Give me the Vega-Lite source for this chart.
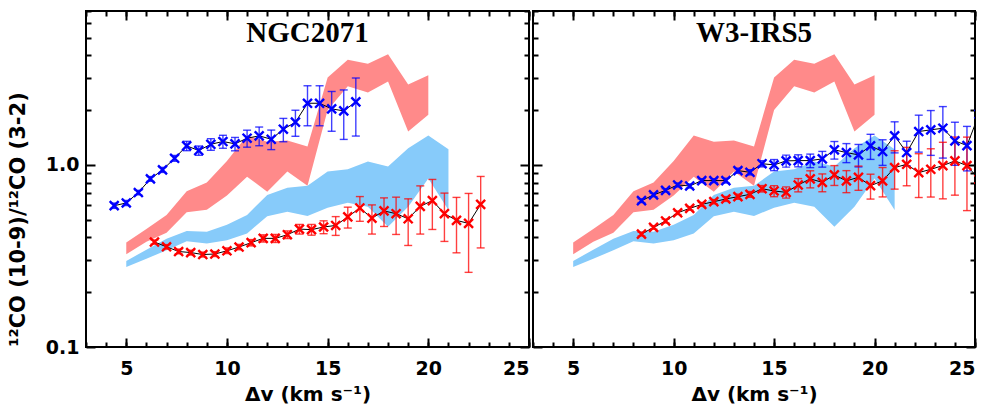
{
  "$schema": "https://vega.github.io/schema/vega-lite/v6.json",
  "background": "white",
  "padding": {"left": 6, "top": 9, "right": 10, "bottom": 0},
  "spacing": 0,
  "config": {
    "view": {"stroke": "black", "strokeWidth": 2},
    "axis": {
      "domain": false, "grid": false, "tickColor": "black", "tickWidth": 2, "zindex": 1,
      "labelFont": "DejaVu Sans", "labelFontWeight": "bold", "labelFontSize": 19, "labelColor": "black",
      "titleFont": "DejaVu Sans", "titleFontWeight": "bold", "titleFontSize": 20, "titleColor": "black"
    },
    "title": {"font": "Liberation Serif", "fontSize": 29, "fontWeight": "bold", "color": "black", "offset": -38}
  },
  "datasets": {
    "bands": [
      {"b": "pink", "x": 5, "lo": 0.3236, "hi": 0.375},
      {"b": "pink", "x": 6, "lo": 0.378, "hi": 0.4445},
      {"b": "pink", "x": 7, "lo": 0.424, "hi": 0.531},
      {"b": "pink", "x": 8, "lo": 0.55, "hi": 0.716},
      {"b": "pink", "x": 9, "lo": 0.567, "hi": 0.8},
      {"b": "pink", "x": 10, "lo": 0.68, "hi": 1.05},
      {"b": "pink", "x": 11, "lo": 0.862, "hi": 1.45},
      {"b": "pink", "x": 12, "lo": 0.713, "hi": 1.34},
      {"b": "pink", "x": 13, "lo": 0.919, "hi": 1.36},
      {"b": "pink", "x": 14, "lo": 0.769, "hi": 1.261},
      {"b": "pink", "x": 15, "lo": 2.0, "hi": 3.02},
      {"b": "pink", "x": 16, "lo": 2.7, "hi": 3.78},
      {"b": "pink", "x": 17, "lo": 2.5, "hi": 3.59},
      {"b": "pink", "x": 18, "lo": 2.87, "hi": 4.05},
      {"b": "pink", "x": 19, "lo": 1.525, "hi": 2.76},
      {"b": "pink", "x": 20, "lo": 1.884, "hi": 3.11},
      {"b": "sky", "x": 5, "lo": 0.275, "hi": 0.297},
      {"b": "sky", "x": 6, "lo": 0.305, "hi": 0.342},
      {"b": "sky", "x": 7, "lo": 0.34, "hi": 0.393},
      {"b": "sky", "x": 8, "lo": 0.381, "hi": 0.4335},
      {"b": "sky", "x": 9, "lo": 0.37, "hi": 0.4295},
      {"b": "sky", "x": 10, "lo": 0.3856, "hi": 0.469},
      {"b": "sky", "x": 11, "lo": 0.42, "hi": 0.531},
      {"b": "sky", "x": 12, "lo": 0.5227, "hi": 0.684},
      {"b": "sky", "x": 13, "lo": 0.553, "hi": 0.75},
      {"b": "sky", "x": 14, "lo": 0.524, "hi": 0.769},
      {"b": "sky", "x": 15, "lo": 0.582, "hi": 0.919},
      {"b": "sky", "x": 16, "lo": 0.62, "hi": 0.946},
      {"b": "sky", "x": 17, "lo": 0.59, "hi": 1.043},
      {"b": "sky", "x": 18, "lo": 0.4575, "hi": 0.979},
      {"b": "sky", "x": 19, "lo": 0.59, "hi": 1.234},
      {"b": "sky", "x": 20, "lo": 0.841, "hi": 1.449},
      {"b": "sky", "x": 21, "lo": 0.565, "hi": 1.219}
    ],
    "pts": [
      {"p": "NGC2071", "s": "blue", "x": 4.4, "y": 0.597, "lo": 0.577, "hi": 0.617},
      {"p": "NGC2071", "s": "blue", "x": 5.0, "y": 0.618, "lo": 0.598, "hi": 0.638},
      {"p": "NGC2071", "s": "blue", "x": 5.6, "y": 0.705, "lo": 0.685, "hi": 0.725},
      {"p": "NGC2071", "s": "blue", "x": 6.2, "y": 0.838, "lo": 0.813, "hi": 0.863},
      {"p": "NGC2071", "s": "blue", "x": 6.8, "y": 0.939, "lo": 0.909, "hi": 0.969},
      {"p": "NGC2071", "s": "blue", "x": 7.4, "y": 1.087, "lo": 1.047, "hi": 1.127},
      {"p": "NGC2071", "s": "blue", "x": 8.0, "y": 1.272, "lo": 1.197, "hi": 1.347},
      {"p": "NGC2071", "s": "blue", "x": 8.6, "y": 1.199, "lo": 1.129, "hi": 1.269},
      {"p": "NGC2071", "s": "blue", "x": 9.2, "y": 1.298, "lo": 1.203, "hi": 1.393},
      {"p": "NGC2071", "s": "blue", "x": 9.8, "y": 1.344, "lo": 1.234, "hi": 1.454},
      {"p": "NGC2071", "s": "blue", "x": 10.4, "y": 1.305, "lo": 1.195, "hi": 1.415},
      {"p": "NGC2071", "s": "blue", "x": 11.0, "y": 1.401, "lo": 1.251, "hi": 1.551},
      {"p": "NGC2071", "s": "blue", "x": 11.6, "y": 1.444, "lo": 1.274, "hi": 1.614},
      {"p": "NGC2071", "s": "blue", "x": 12.2, "y": 1.383, "lo": 1.213, "hi": 1.553},
      {"p": "NGC2071", "s": "blue", "x": 12.8, "y": 1.57, "lo": 1.34, "hi": 1.8},
      {"p": "NGC2071", "s": "blue", "x": 13.4, "y": 1.716, "lo": 1.436, "hi": 1.996},
      {"p": "NGC2071", "s": "blue", "x": 14.0, "y": 2.18, "lo": 1.64, "hi": 2.72},
      {"p": "NGC2071", "s": "blue", "x": 14.6, "y": 2.18, "lo": 1.64, "hi": 2.72},
      {"p": "NGC2071", "s": "blue", "x": 15.2, "y": 2.03, "lo": 1.53, "hi": 2.53},
      {"p": "NGC2071", "s": "blue", "x": 15.8, "y": 1.98, "lo": 1.38, "hi": 2.58},
      {"p": "NGC2071", "s": "blue", "x": 16.4, "y": 2.22, "lo": 1.44, "hi": 3.0},
      {"p": "NGC2071", "s": "red", "x": 6.4, "y": 0.377, "lo": 0.367, "hi": 0.387},
      {"p": "NGC2071", "s": "red", "x": 7.0, "y": 0.355, "lo": 0.345, "hi": 0.365},
      {"p": "NGC2071", "s": "red", "x": 7.6, "y": 0.3345, "lo": 0.325, "hi": 0.345},
      {"p": "NGC2071", "s": "red", "x": 8.2, "y": 0.33, "lo": 0.32, "hi": 0.34},
      {"p": "NGC2071", "s": "red", "x": 8.8, "y": 0.322, "lo": 0.312, "hi": 0.332},
      {"p": "NGC2071", "s": "red", "x": 9.4, "y": 0.324, "lo": 0.314, "hi": 0.334},
      {"p": "NGC2071", "s": "red", "x": 10.0, "y": 0.3375, "lo": 0.326, "hi": 0.35},
      {"p": "NGC2071", "s": "red", "x": 10.6, "y": 0.354, "lo": 0.342, "hi": 0.366},
      {"p": "NGC2071", "s": "red", "x": 11.2, "y": 0.374, "lo": 0.359, "hi": 0.389},
      {"p": "NGC2071", "s": "red", "x": 11.8, "y": 0.395, "lo": 0.377, "hi": 0.413},
      {"p": "NGC2071", "s": "red", "x": 12.4, "y": 0.395, "lo": 0.375, "hi": 0.415},
      {"p": "NGC2071", "s": "red", "x": 13.0, "y": 0.4135, "lo": 0.394, "hi": 0.434},
      {"p": "NGC2071", "s": "red", "x": 13.6, "y": 0.444, "lo": 0.417, "hi": 0.471},
      {"p": "NGC2071", "s": "red", "x": 14.2, "y": 0.441, "lo": 0.411, "hi": 0.471},
      {"p": "NGC2071", "s": "red", "x": 14.8, "y": 0.456, "lo": 0.419, "hi": 0.493},
      {"p": "NGC2071", "s": "red", "x": 15.4, "y": 0.465, "lo": 0.41, "hi": 0.52},
      {"p": "NGC2071", "s": "red", "x": 16.0, "y": 0.518, "lo": 0.45, "hi": 0.586},
      {"p": "NGC2071", "s": "red", "x": 16.6, "y": 0.58, "lo": 0.49, "hi": 0.67},
      {"p": "NGC2071", "s": "red", "x": 17.2, "y": 0.51, "lo": 0.417, "hi": 0.603},
      {"p": "NGC2071", "s": "red", "x": 17.8, "y": 0.559, "lo": 0.459, "hi": 0.659},
      {"p": "NGC2071", "s": "red", "x": 18.4, "y": 0.5395, "lo": 0.415, "hi": 0.665},
      {"p": "NGC2071", "s": "red", "x": 19.0, "y": 0.506, "lo": 0.361, "hi": 0.651},
      {"p": "NGC2071", "s": "red", "x": 19.6, "y": 0.592, "lo": 0.417, "hi": 0.767},
      {"p": "NGC2071", "s": "red", "x": 20.2, "y": 0.637, "lo": 0.442, "hi": 0.832},
      {"p": "NGC2071", "s": "red", "x": 20.8, "y": 0.54, "lo": 0.38, "hi": 0.7},
      {"p": "NGC2071", "s": "red", "x": 21.4, "y": 0.496, "lo": 0.329, "hi": 0.663},
      {"p": "NGC2071", "s": "red", "x": 22.0, "y": 0.477, "lo": 0.257, "hi": 0.697},
      {"p": "NGC2071", "s": "red", "x": 22.6, "y": 0.607, "lo": 0.35, "hi": 0.864},
      {"p": "W3-IRS5", "s": "blue", "x": 8.4, "y": 0.636, "lo": 0.621, "hi": 0.651},
      {"p": "W3-IRS5", "s": "blue", "x": 9.0, "y": 0.684, "lo": 0.669, "hi": 0.699},
      {"p": "W3-IRS5", "s": "blue", "x": 9.6, "y": 0.725, "lo": 0.71, "hi": 0.74},
      {"p": "W3-IRS5", "s": "blue", "x": 10.2, "y": 0.776, "lo": 0.756, "hi": 0.796},
      {"p": "W3-IRS5", "s": "blue", "x": 10.8, "y": 0.766, "lo": 0.746, "hi": 0.786},
      {"p": "W3-IRS5", "s": "blue", "x": 11.4, "y": 0.82, "lo": 0.8, "hi": 0.84},
      {"p": "W3-IRS5", "s": "blue", "x": 12.0, "y": 0.82, "lo": 0.8, "hi": 0.84},
      {"p": "W3-IRS5", "s": "blue", "x": 12.6, "y": 0.82, "lo": 0.795, "hi": 0.845},
      {"p": "W3-IRS5", "s": "blue", "x": 13.2, "y": 0.93, "lo": 0.9, "hi": 0.96},
      {"p": "W3-IRS5", "s": "blue", "x": 13.8, "y": 0.911, "lo": 0.881, "hi": 0.941},
      {"p": "W3-IRS5", "s": "blue", "x": 14.4, "y": 1.015, "lo": 0.975, "hi": 1.055},
      {"p": "W3-IRS5", "s": "blue", "x": 15.0, "y": 1.0, "lo": 0.93, "hi": 1.07},
      {"p": "W3-IRS5", "s": "blue", "x": 15.6, "y": 1.052, "lo": 0.972, "hi": 1.132},
      {"p": "W3-IRS5", "s": "blue", "x": 16.2, "y": 1.056, "lo": 0.976, "hi": 1.136},
      {"p": "W3-IRS5", "s": "blue", "x": 16.8, "y": 1.056, "lo": 0.966, "hi": 1.146},
      {"p": "W3-IRS5", "s": "blue", "x": 17.4, "y": 1.079, "lo": 0.972, "hi": 1.186},
      {"p": "W3-IRS5", "s": "blue", "x": 18.0, "y": 1.21, "lo": 1.076, "hi": 1.344},
      {"p": "W3-IRS5", "s": "blue", "x": 18.6, "y": 1.169, "lo": 1.029, "hi": 1.309},
      {"p": "W3-IRS5", "s": "blue", "x": 19.2, "y": 1.135, "lo": 0.975, "hi": 1.295},
      {"p": "W3-IRS5", "s": "blue", "x": 19.8, "y": 1.272, "lo": 1.072, "hi": 1.472},
      {"p": "W3-IRS5", "s": "blue", "x": 20.4, "y": 1.184, "lo": 0.994, "hi": 1.374},
      {"p": "W3-IRS5", "s": "blue", "x": 21.0, "y": 1.444, "lo": 1.164, "hi": 1.724},
      {"p": "W3-IRS5", "s": "blue", "x": 21.6, "y": 1.169, "lo": 0.989, "hi": 1.349},
      {"p": "W3-IRS5", "s": "blue", "x": 22.2, "y": 1.525, "lo": 1.175, "hi": 1.875},
      {"p": "W3-IRS5", "s": "blue", "x": 22.8, "y": 1.558, "lo": 1.128, "hi": 1.988},
      {"p": "W3-IRS5", "s": "blue", "x": 23.4, "y": 1.59, "lo": 1.09, "hi": 2.09},
      {"p": "W3-IRS5", "s": "blue", "x": 24.0, "y": 1.355, "lo": 0.995, "hi": 1.715},
      {"p": "W3-IRS5", "s": "blue", "x": 24.6, "y": 1.277, "lo": 0.927, "hi": 1.627},
      {"p": "W3-IRS5", "s": "blue", "x": 25.2, "y": 1.9, "lo": 1.45, "hi": 2.35},
      {"p": "W3-IRS5", "s": "red", "x": 8.4, "y": 0.417, "lo": 0.407, "hi": 0.427},
      {"p": "W3-IRS5", "s": "red", "x": 9.0, "y": 0.4535, "lo": 0.4435, "hi": 0.4635},
      {"p": "W3-IRS5", "s": "red", "x": 9.6, "y": 0.492, "lo": 0.48, "hi": 0.504},
      {"p": "W3-IRS5", "s": "red", "x": 10.2, "y": 0.546, "lo": 0.534, "hi": 0.558},
      {"p": "W3-IRS5", "s": "red", "x": 10.8, "y": 0.577, "lo": 0.564, "hi": 0.59},
      {"p": "W3-IRS5", "s": "red", "x": 11.4, "y": 0.607, "lo": 0.592, "hi": 0.622},
      {"p": "W3-IRS5", "s": "red", "x": 12.0, "y": 0.628, "lo": 0.611, "hi": 0.645},
      {"p": "W3-IRS5", "s": "red", "x": 12.6, "y": 0.65, "lo": 0.63, "hi": 0.67},
      {"p": "W3-IRS5", "s": "red", "x": 13.2, "y": 0.669, "lo": 0.647, "hi": 0.691},
      {"p": "W3-IRS5", "s": "red", "x": 13.8, "y": 0.689, "lo": 0.664, "hi": 0.714},
      {"p": "W3-IRS5", "s": "red", "x": 14.4, "y": 0.74, "lo": 0.71, "hi": 0.77},
      {"p": "W3-IRS5", "s": "red", "x": 15.0, "y": 0.719, "lo": 0.669, "hi": 0.769},
      {"p": "W3-IRS5", "s": "red", "x": 15.6, "y": 0.707, "lo": 0.657, "hi": 0.757},
      {"p": "W3-IRS5", "s": "red", "x": 16.2, "y": 0.776, "lo": 0.711, "hi": 0.841},
      {"p": "W3-IRS5", "s": "red", "x": 16.8, "y": 0.838, "lo": 0.748, "hi": 0.928},
      {"p": "W3-IRS5", "s": "red", "x": 17.4, "y": 0.802, "lo": 0.712, "hi": 0.892},
      {"p": "W3-IRS5", "s": "red", "x": 18.0, "y": 0.881, "lo": 0.771, "hi": 0.991},
      {"p": "W3-IRS5", "s": "red", "x": 18.6, "y": 0.817, "lo": 0.704, "hi": 0.93},
      {"p": "W3-IRS5", "s": "red", "x": 19.2, "y": 0.855, "lo": 0.725, "hi": 0.985},
      {"p": "W3-IRS5", "s": "red", "x": 19.8, "y": 0.769, "lo": 0.649, "hi": 0.889},
      {"p": "W3-IRS5", "s": "red", "x": 20.4, "y": 0.817, "lo": 0.667, "hi": 0.967},
      {"p": "W3-IRS5", "s": "red", "x": 21.0, "y": 0.966, "lo": 0.736, "hi": 1.196},
      {"p": "W3-IRS5", "s": "red", "x": 21.6, "y": 1.008, "lo": 0.768, "hi": 1.248},
      {"p": "W3-IRS5", "s": "red", "x": 22.2, "y": 0.907, "lo": 0.662, "hi": 1.152},
      {"p": "W3-IRS5", "s": "red", "x": 22.8, "y": 0.946, "lo": 0.666, "hi": 1.226},
      {"p": "W3-IRS5", "s": "red", "x": 23.4, "y": 0.991, "lo": 0.651, "hi": 1.331},
      {"p": "W3-IRS5", "s": "red", "x": 24.0, "y": 1.052, "lo": 0.682, "hi": 1.422},
      {"p": "W3-IRS5", "s": "red", "x": 24.6, "y": 0.991, "lo": 0.561, "hi": 1.421},
      {"p": "W3-IRS5", "s": "red", "x": 25.2, "y": 0.833, "lo": 0.383, "hi": 1.283}
    ]
  },
  "hconcat": [
    {
      "width": 443, "height": 336,
      "title": {"text": "NGC2071"},
      "resolve": {"axis": {"x": "independent", "y": "independent"}},
      "layer": [
        {"data": {"name": "bands"}, "transform": [{"filter": {"field": "b", "equal": "pink"}}],
         "mark": {"type": "area", "color": "#ff8a8a"},
         "encoding": {
           "x": {"field": "x", "type": "quantitative", "scale": {"domain": [3, 25], "nice": false, "zero": false},
                 "axis": {"orient": "bottom", "values": [5, 10, 15, 20, 25], "ticks": false, "labelPadding": 12, "title": "Δv (km s⁻¹)", "titlePadding": 6}},
           "y": {"field": "lo", "type": "quantitative", "scale": {"type": "log", "domain": [0.1, 7], "nice": false},
                 "axis": {"orient": "left", "values": [0.1, 1], "format": ".1f", "ticks": false, "labelPadding": 7, "title": "¹²CO (10-9)/¹²CO (3-2)", "titleFontSize": 21, "titlePadding": 17, "titleY": 208}},
           "y2": {"field": "hi"}
         }},
        {"data": {"name": "bands"}, "transform": [{"filter": {"field": "b", "equal": "sky"}}],
         "mark": {"type": "area", "color": "#87cbfa"},
         "encoding": {
           "x": {"field": "x", "type": "quantitative", "scale": {"domain": [3, 25], "nice": false, "zero": false},
                 "axis": {"orient": "bottom", "values": [5, 10, 15, 20, 25], "offset": -9, "tickSize": 9, "labels": false, "title": "", "tickColor": "black"}},
           "y": {"field": "lo", "type": "quantitative", "scale": {"type": "log", "domain": [0.1, 7], "nice": false},
                 "axis": {"orient": "left", "values": [0.1, 1], "offset": -9, "tickSize": 9, "labels": false, "title": "", "tickColor": "black"}},
           "y2": {"field": "hi"}
         }},
        {"data": {"name": "pts"}, "transform": [{"filter": {"field": "p", "equal": "NGC2071"}}],
         "mark": {"type": "rule", "strokeWidth": 1.4, "opacity": 0.75},
         "encoding": {
           "x": {"field": "x", "type": "quantitative", "scale": {"domain": [3, 25], "nice": false, "zero": false},
                 "axis": {"orient": "bottom", "values": [3,4,5,6,7,8,9,10,11,12,13,14,15,16,17,18,19,20,21,22,23,24,25], "offset": -5, "tickSize": 5, "labels": false, "title": "", "tickColor": "black"}},
           "y": {"field": "lo", "type": "quantitative", "scale": {"type": "log", "domain": [0.1, 7], "nice": false},
                 "axis": {"orient": "left", "values": [0.2,0.3,0.4,0.5,0.6,0.7,0.8,0.9,2,3,4,5,6,7], "offset": -5, "tickSize": 5, "labels": false, "title": "", "tickColor": "black"}},
           "y2": {"field": "hi"},
           "color": {"field": "s", "type": "nominal", "scale": {"domain": ["blue", "red"], "range": ["#0000ff", "#ff0000"]}, "legend": null}
         }},
        {"data": {"name": "pts"}, "transform": [{"filter": {"field": "p", "equal": "NGC2071"}}],
         "mark": {"type": "tick", "orient": "horizontal", "size": 8, "thickness": 1.4, "opacity": 0.75},
         "encoding": {
           "x": {"field": "x", "type": "quantitative", "scale": {"domain": [3, 25], "nice": false, "zero": false},
                 "axis": {"orient": "top", "values": [5, 10, 15, 20, 25], "offset": -9, "tickSize": 9, "labels": false, "title": "", "tickColor": "black"}},
           "y": {"field": "lo", "type": "quantitative", "scale": {"type": "log", "domain": [0.1, 7], "nice": false},
                 "axis": {"orient": "right", "values": [0.1, 1], "offset": -9, "tickSize": 9, "labels": false, "title": "", "tickColor": "black"}},
           "color": {"field": "s", "type": "nominal", "scale": {"domain": ["blue", "red"], "range": ["#0000ff", "#ff0000"]}, "legend": null}
         }},
        {"data": {"name": "pts"}, "transform": [{"filter": {"field": "p", "equal": "NGC2071"}}],
         "mark": {"type": "tick", "orient": "horizontal", "size": 8, "thickness": 1.4, "opacity": 0.75},
         "encoding": {
           "x": {"field": "x", "type": "quantitative", "scale": {"domain": [3, 25], "nice": false, "zero": false},
                 "axis": {"orient": "top", "values": [3,4,5,6,7,8,9,10,11,12,13,14,15,16,17,18,19,20,21,22,23,24,25], "offset": -5, "tickSize": 5, "labels": false, "title": "", "tickColor": "black"}},
           "y": {"field": "hi", "type": "quantitative", "scale": {"type": "log", "domain": [0.1, 7], "nice": false},
                 "axis": {"orient": "right", "values": [0.2,0.3,0.4,0.5,0.6,0.7,0.8,0.9,2,3,4,5,6,7], "offset": -5, "tickSize": 5, "labels": false, "title": "", "tickColor": "black"}},
           "color": {"field": "s", "type": "nominal", "scale": {"domain": ["blue", "red"], "range": ["#0000ff", "#ff0000"]}, "legend": null}
         }},
        {"data": {"name": "pts"}, "transform": [{"filter": {"field": "p", "equal": "NGC2071"}}],
         "mark": {"type": "line", "color": "black", "strokeWidth": 1, "clip": true},
         "encoding": {
           "x": {"field": "x", "type": "quantitative", "scale": {"domain": [3, 25], "nice": false, "zero": false}, "axis": null},
           "y": {"field": "y", "type": "quantitative", "scale": {"type": "log", "domain": [0.1, 7], "nice": false}, "axis": null},
           "detail": {"field": "s", "type": "nominal"}
         }},
        {"data": {"name": "pts"}, "transform": [{"filter": {"field": "p", "equal": "NGC2071"}}],
         "mark": {"type": "point", "shape": "M-1,-1L1,1M-1,1L1,-1", "filled": false, "strokeWidth": 2.4, "size": 80, "opacity": 1, "clip": true},
         "encoding": {
           "x": {"field": "x", "type": "quantitative", "scale": {"domain": [3, 25], "nice": false, "zero": false}, "axis": null},
           "y": {"field": "y", "type": "quantitative", "scale": {"type": "log", "domain": [0.1, 7], "nice": false}, "axis": null},
           "color": {"field": "s", "type": "nominal", "scale": {"domain": ["blue", "red"], "range": ["#0000ff", "#ff0000"]}, "legend": null}
         }}
      ]
    },
    {
      "width": 442, "height": 336,
      "title": {"text": "W3-IRS5"},
      "resolve": {"axis": {"x": "independent", "y": "independent"}},
      "layer": [
        {"data": {"name": "bands"}, "transform": [{"filter": {"field": "b", "equal": "pink"}}],
         "mark": {"type": "area", "color": "#ff8a8a"},
         "encoding": {
           "x": {"field": "x", "type": "quantitative", "scale": {"domain": [3, 25], "nice": false, "zero": false},
                 "axis": {"orient": "bottom", "values": [5, 10, 15, 20, 25], "ticks": false, "labelPadding": 12, "title": "Δv (km s⁻¹)", "titlePadding": 6}},
           "y": {"field": "lo", "type": "quantitative", "scale": {"type": "log", "domain": [0.1, 7], "nice": false},
                 "axis": {"orient": "left", "values": [0.1, 1], "offset": -9, "tickSize": 9, "labels": false, "title": "", "tickColor": "black"}},
           "y2": {"field": "hi"}
         }},
        {"data": {"name": "bands"}, "transform": [{"filter": {"field": "b", "equal": "sky"}}],
         "mark": {"type": "area", "color": "#87cbfa"},
         "encoding": {
           "x": {"field": "x", "type": "quantitative", "scale": {"domain": [3, 25], "nice": false, "zero": false},
                 "axis": {"orient": "bottom", "values": [5, 10, 15, 20, 25], "offset": -9, "tickSize": 9, "labels": false, "title": "", "tickColor": "black"}},
           "y": {"field": "lo", "type": "quantitative", "scale": {"type": "log", "domain": [0.1, 7], "nice": false},
                 "axis": {"orient": "left", "values": [0.2,0.3,0.4,0.5,0.6,0.7,0.8,0.9,2,3,4,5,6,7], "offset": -5, "tickSize": 5, "labels": false, "title": "", "tickColor": "black"}},
           "y2": {"field": "hi"}
         }},
        {"data": {"name": "pts"}, "transform": [{"filter": {"field": "p", "equal": "W3-IRS5"}}, {"filter": {"field": "x", "lte": 25}}],
         "mark": {"type": "rule", "strokeWidth": 1.4, "opacity": 0.75},
         "encoding": {
           "x": {"field": "x", "type": "quantitative", "scale": {"domain": [3, 25], "nice": false, "zero": false},
                 "axis": {"orient": "bottom", "values": [3,4,5,6,7,8,9,10,11,12,13,14,15,16,17,18,19,20,21,22,23,24,25], "offset": -5, "tickSize": 5, "labels": false, "title": "", "tickColor": "black"}},
           "y": {"field": "lo", "type": "quantitative", "scale": {"type": "log", "domain": [0.1, 7], "nice": false},
                 "axis": {"orient": "right", "values": [0.1, 1], "offset": -9, "tickSize": 9, "labels": false, "title": "", "tickColor": "black"}},
           "y2": {"field": "hi"},
           "color": {"field": "s", "type": "nominal", "scale": {"domain": ["blue", "red"], "range": ["#0000ff", "#ff0000"]}, "legend": null}
         }},
        {"data": {"name": "pts"}, "transform": [{"filter": {"field": "p", "equal": "W3-IRS5"}}, {"filter": {"field": "x", "lte": 25}}],
         "mark": {"type": "tick", "orient": "horizontal", "size": 8, "thickness": 1.4, "opacity": 0.75},
         "encoding": {
           "x": {"field": "x", "type": "quantitative", "scale": {"domain": [3, 25], "nice": false, "zero": false},
                 "axis": {"orient": "top", "values": [5, 10, 15, 20, 25], "offset": -9, "tickSize": 9, "labels": false, "title": "", "tickColor": "black"}},
           "y": {"field": "lo", "type": "quantitative", "scale": {"type": "log", "domain": [0.1, 7], "nice": false},
                 "axis": {"orient": "right", "values": [0.2,0.3,0.4,0.5,0.6,0.7,0.8,0.9,2,3,4,5,6,7], "offset": -5, "tickSize": 5, "labels": false, "title": "", "tickColor": "black"}},
           "color": {"field": "s", "type": "nominal", "scale": {"domain": ["blue", "red"], "range": ["#0000ff", "#ff0000"]}, "legend": null}
         }},
        {"data": {"name": "pts"}, "transform": [{"filter": {"field": "p", "equal": "W3-IRS5"}}, {"filter": {"field": "x", "lte": 25}}],
         "mark": {"type": "tick", "orient": "horizontal", "size": 8, "thickness": 1.4, "opacity": 0.75},
         "encoding": {
           "x": {"field": "x", "type": "quantitative", "scale": {"domain": [3, 25], "nice": false, "zero": false},
                 "axis": {"orient": "top", "values": [3,4,5,6,7,8,9,10,11,12,13,14,15,16,17,18,19,20,21,22,23,24,25], "offset": -5, "tickSize": 5, "labels": false, "title": "", "tickColor": "black"}},
           "y": {"field": "hi", "type": "quantitative", "scale": {"type": "log", "domain": [0.1, 7], "nice": false}, "axis": null},
           "color": {"field": "s", "type": "nominal", "scale": {"domain": ["blue", "red"], "range": ["#0000ff", "#ff0000"]}, "legend": null}
         }},
        {"data": {"name": "pts"}, "transform": [{"filter": {"field": "p", "equal": "W3-IRS5"}}],
         "mark": {"type": "line", "color": "black", "strokeWidth": 1, "clip": true},
         "encoding": {
           "x": {"field": "x", "type": "quantitative", "scale": {"domain": [3, 25], "nice": false, "zero": false}, "axis": null},
           "y": {"field": "y", "type": "quantitative", "scale": {"type": "log", "domain": [0.1, 7], "nice": false}, "axis": null},
           "detail": {"field": "s", "type": "nominal"}
         }},
        {"data": {"name": "pts"}, "transform": [{"filter": {"field": "p", "equal": "W3-IRS5"}}],
         "mark": {"type": "point", "shape": "M-1,-1L1,1M-1,1L1,-1", "filled": false, "strokeWidth": 2.4, "size": 80, "opacity": 1, "clip": true},
         "encoding": {
           "x": {"field": "x", "type": "quantitative", "scale": {"domain": [3, 25], "nice": false, "zero": false}, "axis": null},
           "y": {"field": "y", "type": "quantitative", "scale": {"type": "log", "domain": [0.1, 7], "nice": false}, "axis": null},
           "color": {"field": "s", "type": "nominal", "scale": {"domain": ["blue", "red"], "range": ["#0000ff", "#ff0000"]}, "legend": null}
         }}
      ]
    }
  ]
}
